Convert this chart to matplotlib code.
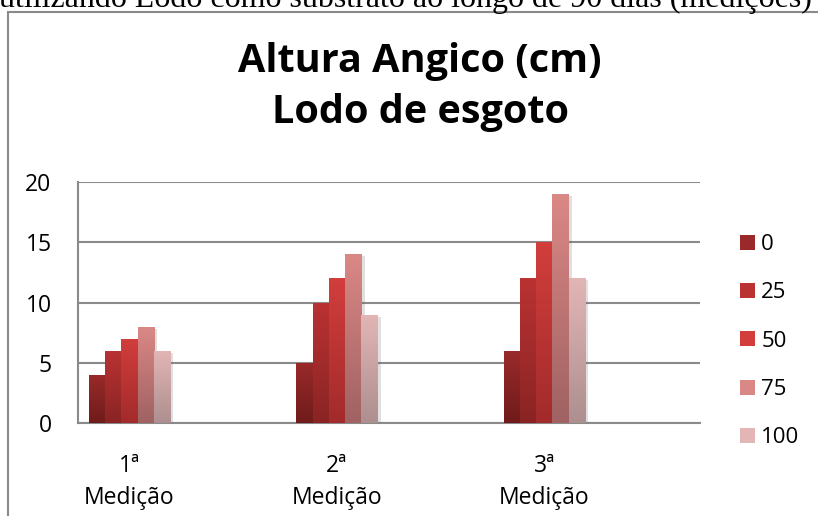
import numpy as np
import matplotlib.pyplot as plt
import matplotlib.patheffects as pe
from matplotlib.colors import LinearSegmentedColormap
from matplotlib.patches import Rectangle, Patch

plt.rcParams['font.family'] = ['Open Sans', 'DejaVu Sans']

# heights (cm) per measurement, one list per sludge dose
medicoes = ['1ª\nMedição', '2ª\nMedição', '3ª\nMedição']
doses = ['0', '25', '50', '75', '100']
altura_0 = [4, 5, 6]
altura_25 = [6, 10, 12]
altura_50 = [7, 12, 15]
altura_75 = [8, 14, 19]
altura_100 = [6, 9, 12]
series = [altura_0, altura_25, altura_50, altura_75, altura_100]

# (bottom, top) colours of the gradient fill for each dose
grad = [('#701b1b', '#9a2a2a'),
        ('#8a2424', '#ba3232'),
        ('#a32b2b', '#d13e3c'),
        ('#a06262', '#da8886'),
        ('#ae8f8f', '#e3b5b5')]

W, H = 818, 516
fig = plt.figure(figsize=(W / 100, H / 100), dpi=100)
ax = fig.add_axes([78 / W, 1 - 423 / H, 622 / W, 241 / H])

# outer chart frame (runs off the right and bottom of the image)
fig.patches.append(Rectangle((8 / W, -0.05), 1.2, 1 - 12 / H + 0.05,
                             transform=fig.transFigure, fill=False,
                             ec='#8a8a8a', lw=1.5, zorder=0))

fig.text(812 / W, 1 - 7 / H,
         'utilizando Lodo como substrato ao longo de 90 dias (medições)',
         family='Liberation Serif', fontsize=23, ha='right', va='baseline')

fig.text(420 / W, 1 - 72 / H, 'Altura Angico (cm)', fontsize=28.5,
         fontweight='bold', ha='center', va='baseline')
fig.text(420 / W, 1 - 123 / H, 'Lodo de esgoto', fontsize=28.5,
         fontweight='bold', ha='center', va='baseline')

x = np.arange(len(medicoes))
bw = 0.078
for i, vals in enumerate(series):
    c0, c1 = grad[i]
    cmap = LinearSegmentedColormap.from_list('g%d' % i, [c0, c1])
    xs = x + (i - 2) * bw
    bars = ax.bar(xs, vals, width=bw, color=c1, lw=0, zorder=3,
                  path_effects=[pe.SimplePatchShadow(offset=(2.5, -1.5), shadow_rgbFace='#555555', alpha=0.18),
                                pe.Normal()])
    for b in bars:
        x0, y0 = b.get_x(), b.get_y()
        im = ax.imshow(np.linspace(0, 1, 64).reshape(-1, 1), cmap=cmap,
                       origin='lower', aspect='auto', zorder=4,
                       extent=(x0, x0 + b.get_width(), y0, y0 + b.get_height()))
        im.set_clip_path(b)

ax.set_xlim(-0.248, 2.75)
ax.set_ylim(0, 20)
ax.set_yticks([0, 5, 10, 15, 20])
ax.set_xticks(x)
ax.set_xticklabels(medicoes, linespacing=1.48)
ax.tick_params(axis='both', length=0, labelsize=16.5)
ax.tick_params(axis='y', pad=19)
ax.tick_params(axis='x', pad=22)
ax.grid(axis='y', color='#8a8a8a', lw=1.5, zorder=1)
ax.set_axisbelow(True)
for s in ['top', 'right']:
    ax.spines[s].set_visible(False)
for s in ['left', 'bottom']:
    ax.spines[s].set_color('#8a8a8a')
    ax.spines[s].set_linewidth(1.5)

handles = [Patch(facecolor=grad[i][1], edgecolor='none') for i in range(len(doses))]
fig.legend(handles, doses, loc='upper left', bbox_to_anchor=(740 / W, 1 - 234 / H),
           frameon=False, fontsize=16, handlelength=0.66, handleheight=0.66,
           handletextpad=0.3, labelspacing=1.23, borderpad=0, borderaxespad=0)

fig.savefig('out.png', dpi=100)
